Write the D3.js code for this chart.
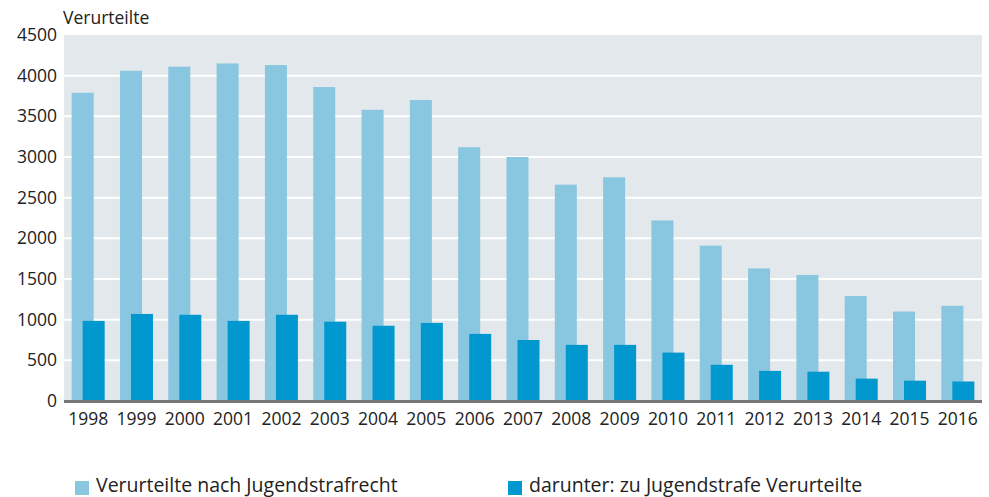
<!DOCTYPE html>
<html>
<head>
<meta charset="utf-8">
<script src="https://cdn.jsdelivr.net/npm/d3@7"></script>
<style>
  html, body { margin: 0; padding: 0; background: #fff; }
  svg { display: block; font-family: "Open Sans", sans-serif; }
</style>
</head>
<body>
<div id="chart"></div>
<script>
// --- data -------------------------------------------------------------------
const years = ['1998','1999','2000','2001','2002','2003','2004','2005','2006','2007',
               '2008','2009','2010','2011','2012','2013','2014','2015','2016'];
const totalJugendstrafrecht = [3790, 4060, 4110, 4150, 4130, 3860, 3580, 3700, 3120, 3000,
                               2660, 2750, 2220, 1910, 1630, 1550, 1290, 1100, 1170];
const jugendstrafe = [985, 1070, 1060, 985, 1060, 975, 925, 960, 825, 750,
                      690, 690, 595, 445, 370, 360, 275, 250, 240];
const yTicks = [0, 500, 1000, 1500, 2000, 2500, 3000, 3500, 4000, 4500];
const seriesNames = ['Verurteilte nach Jugendstrafrecht', 'darunter: zu Jugendstrafe Verurteilte'];
const seriesColors = ['#89c6df', '#0098cf'];

// --- layout -----------------------------------------------------------------
const width = 989, height = 497;
const plot = { left: 64, right: 982, top: 35, bottom: 401 };

const svg = d3.select('#chart').append('svg')
  .attr('width', width).attr('height', height);

const x = d3.scaleBand().domain(years).range([plot.left, plot.right]).padding(0);
const y = d3.scaleLinear().domain([0, 4500]).range([plot.bottom, plot.top]);

// background
svg.append('rect')
  .attr('x', plot.left).attr('y', plot.top)
  .attr('width', plot.right - plot.left).attr('height', plot.bottom - plot.top)
  .attr('fill', '#e3e8ec');

// gridlines
svg.append('g').selectAll('line')
  .data(yTicks.filter(d => d > 0 && d < 4500))
  .join('line')
  .attr('x1', plot.left).attr('x2', plot.right)
  .attr('y1', d => y(d)).attr('y2', d => y(d))
  .attr('stroke', '#fff').attr('stroke-width', 2);

// bars (overlapping pairs)
const barW = 22, shift = 11;
const bx = d => x(d) + x.bandwidth() / 2 - (barW + shift) / 2;

svg.append('g').selectAll('rect')
  .data(years.map((yr, i) => ({ yr, v: totalJugendstrafrecht[i] })))
  .join('rect')
  .attr('x', d => bx(d.yr)).attr('width', barW)
  .attr('y', d => y(d.v)).attr('height', d => y(0) - y(d.v))
  .attr('fill', seriesColors[0]);

svg.append('g').selectAll('rect')
  .data(years.map((yr, i) => ({ yr, v: jugendstrafe[i] })))
  .join('rect')
  .attr('x', d => bx(d.yr) + shift).attr('width', barW)
  .attr('y', d => y(d.v)).attr('height', d => y(0) - y(d.v))
  .attr('fill', seriesColors[1]);

// baseline
svg.append('line')
  .attr('x1', plot.left).attr('x2', plot.right)
  .attr('y1', y(0) + 0.5).attr('y2', y(0) + 0.5)
  .attr('stroke', '#777').attr('stroke-width', 3);

// y axis
const yAxis = svg.append('g')
  .attr('transform', `translate(${plot.left - 7},0)`)
  .call(d3.axisLeft(y).tickValues(yTicks).tickSize(0).tickPadding(0).tickFormat(d3.format('d')));
yAxis.select('.domain').remove();
yAxis.selectAll('text')
  .attr('font-size', 17.5).attr('fill', '#222').attr('font-family', '"Open Sans", sans-serif');

// x axis
const xAxis = svg.append('g')
  .attr('transform', `translate(0,${plot.bottom + 12})`)
  .call(d3.axisBottom(x).tickSize(0).tickPadding(0));
xAxis.select('.domain').remove();
xAxis.selectAll('text')
  .attr('font-size', 17.5).attr('fill', '#222').attr('font-family', '"Open Sans", sans-serif');

// axis title
svg.append('text')
  .attr('x', 63).attr('y', 24)
  .attr('font-size', 17.5).attr('fill', '#222')
  .text('Verurteilte');

// legend
const legendX = [75, 508];
const lg = svg.append('g').selectAll('g')
  .data(seriesNames)
  .join('g')
  .attr('transform', (d, i) => `translate(${legendX[i]},481)`);
lg.append('rect').attr('width', 14).attr('height', 14)
  .attr('fill', (d, i) => seriesColors[i]);
lg.append('text').attr('x', 21).attr('y', 11)
  .attr('font-size', 19.5).attr('fill', '#222')
  .text(d => d);
</script>
</body>
</html>
